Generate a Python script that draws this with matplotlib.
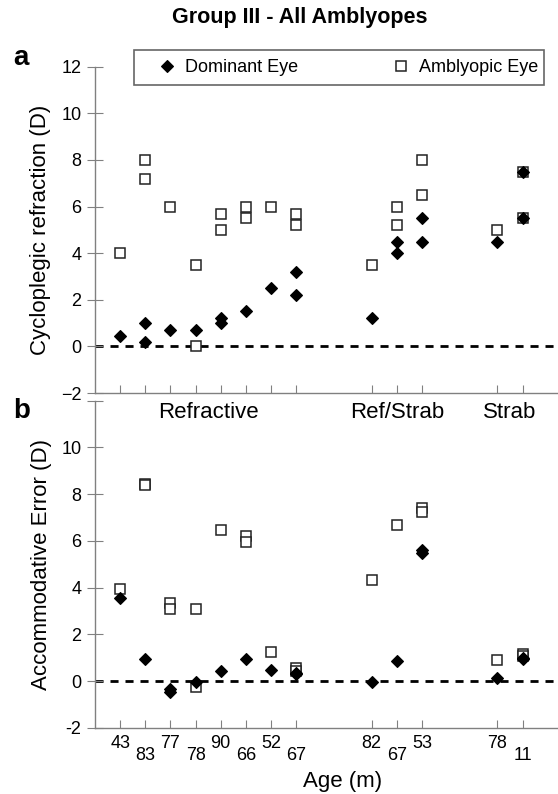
import matplotlib
matplotlib.use('Agg')
import matplotlib.pyplot as plt
from matplotlib.lines import Line2D
from matplotlib.patches import Rectangle

plt.rcParams['font.family'] = ['Liberation Sans', 'DejaVu Sans']

# ---------------- data ----------------
groups = ['Refractive', 'Ref/Strab', 'Strab']
group_ages = [['43', '83', '77', '78', '90', '66', '52', '67'],
              ['82', '67', '53'],
              ['78', '11']]
group_gap = 2

# Panel a: cycloplegic refraction (D); category index 0..12
a_dom_cat = [0, 1, 1, 2, 3, 4, 4, 5, 6, 7, 7, 8, 9, 9, 10, 10, 11, 12, 12]
a_dom_val = [0.45, 1.0, 0.2, 0.7, 0.7, 1.2, 1.0, 1.5, 2.5, 3.2, 2.2,
             1.2, 4.5, 4.0, 5.5, 4.5, 4.5, 7.5, 5.5]
a_amb_cat = [0, 1, 1, 2, 3, 3, 4, 4, 5, 5, 6, 7, 7, 8, 9, 9, 10, 10, 11, 12, 12]
a_amb_val = [4.0, 8.0, 7.2, 6.0, 3.5, 0.0, 5.7, 5.0, 6.0, 5.5, 6.0, 5.7, 5.2,
             3.5, 6.0, 5.2, 8.0, 6.5, 5.0, 7.5, 5.5]

# Panel b: accommodative error (D)
b_dom_cat = [0, 1, 2, 2, 3, 4, 5, 6, 7, 7, 8, 9, 10, 10, 11, 12, 12]
b_dom_val = [3.55, 0.95, -0.35, -0.45, -0.05, 0.45, 0.95, 0.5, 0.35, 0.3,
             -0.05, 0.85, 5.6, 5.5, 0.15, 0.95, 1.0]
b_amb_cat = [0, 1, 1, 2, 2, 3, 3, 4, 5, 5, 6, 7, 7, 8, 9, 10, 10, 11, 12, 12]
b_amb_val = [3.95, 8.45, 8.4, 3.35, 3.1, 3.1, -0.25, 6.45, 6.2, 5.95, 1.25,
             0.55, 0.45, 4.35, 6.7, 7.4, 7.25, 0.9, 1.15, 1.1]

# ---------------- category positions ----------------
positions, labels, is_high = [], [], []
group_centers = []
p = 0
for ages in group_ages:
    start = p
    for j, age in enumerate(ages):
        positions.append(p)
        labels.append(age)
        is_high.append(j % 2 == 0)
        p += 1
    group_centers.append((start + p - 1) / 2)
    p += group_gap

W, H = 558, 794
fig = plt.figure(figsize=(W / 100, H / 100), dpi=100)

ax1 = fig.add_axes([95 / W, 1 - 393 / H, 1 - 95 / W, (393 - 66.7) / H])
ax2 = fig.add_axes([95 / W, 1 - 728 / H, 1 - 95 / W, (728 - 400.7) / H])

gray = '#808080'
sq_kw = dict(marker='s', ls='none', ms=7.0, mfc='white', mec='#222222', mew=1.1, zorder=3)
dm_kw = dict(marker='D', ls='none', ms=6.0, mfc='black', mec='black', mew=0.8, zorder=4)

for ax, dc, dv, ac, av in [(ax1, a_dom_cat, a_dom_val, a_amb_cat, a_amb_val),
                           (ax2, b_dom_cat, b_dom_val, b_amb_cat, b_amb_val)]:
    ax.plot([positions[c] for c in ac], av, **sq_kw)
    ax.plot([positions[c] for c in dc], dv, **dm_kw)
    ax.axhline(0, color='black', lw=2.0, ls=(0, (2.9, 2.5)), zorder=1)
    ax.set_xlim(-1, 17.41)
    ax.set_ylim(-2, 12)
    ax.set_yticks(range(-2, 13, 2))
    for s in ['top', 'right']:
        ax.spines[s].set_visible(False)
    for s in ['left', 'bottom']:
        ax.spines[s].set_color(gray)
        ax.spines[s].set_linewidth(1.0)
    ax.tick_params(axis='y', direction='inout', length=11.5, width=0.8,
                   color=gray, labelsize=13, pad=4)
    ax.tick_params(axis='x', which='both', direction='in', length=5.8,
                   width=0.8, color=gray)
    high_pos = [x for x, h in zip(positions, is_high) if h]
    low_pos = [x for x, h in zip(positions, is_high) if not h]
    ax.set_xticks(high_pos)
    ax.set_xticks(low_pos, minor=True)

ax1.tick_params(axis='x', which='both', labelbottom=False)
ax2.set_xticklabels([l for l, h in zip(labels, is_high) if h])
ax2.set_xticklabels([l for l, h in zip(labels, is_high) if not h], minor=True)
ax2.tick_params(axis='x', which='major', labelsize=13, pad=5)
ax2.tick_params(axis='x', which='minor', labelsize=13, pad=13.5)
ax2.set_yticklabels([str(v) for v in range(-2, 11, 2)] + [''])

ax1.set_ylabel('Cycloplegic refraction (D)', fontsize=16, labelpad=7)
ax2.set_ylabel('Accommodative Error (D)', fontsize=16, labelpad=7)
ax2.set_xlabel('Age (m)', fontsize=16, labelpad=5)
ax2.xaxis.label.set_x((343 - 95) / (W - 95))

for name, c in zip(groups, group_centers):
    ax2.text(c, 11.5, name, ha='center', va='center', fontsize=16)

fig.text(300 / W, 1 - 18 / H, 'Group III - All Amblyopes', ha='center',
         va='center', fontsize=15.5, fontweight='bold')
fig.text(13 / W, 1 - 65 / H, 'a', ha='left', va='baseline', fontsize=20, fontweight='bold')
fig.text(13 / W, 1 - 418 / H, 'b', ha='left', va='baseline', fontsize=20, fontweight='bold')

# legend
fig.add_artist(Rectangle((134 / W, 1 - 85 / H), 410 / W, 35 / H, transform=fig.transFigure,
                         fill=False, ec='#666666', lw=1.2))
handles = [Line2D([], [], **dm_kw), Line2D([], [], **sq_kw)]
fig.legend(handles, ['Dominant Eye', 'Amblyopic Eye'], loc='center',
           bbox_to_anchor=(156 / W, 1 - 85 / H, 382 / W, 35 / H), mode='expand',
           ncol=2, frameon=False, borderpad=0, borderaxespad=0, fontsize=13,
           handlelength=1.2, handletextpad=0.4)

fig.savefig('out.png', dpi=100)
